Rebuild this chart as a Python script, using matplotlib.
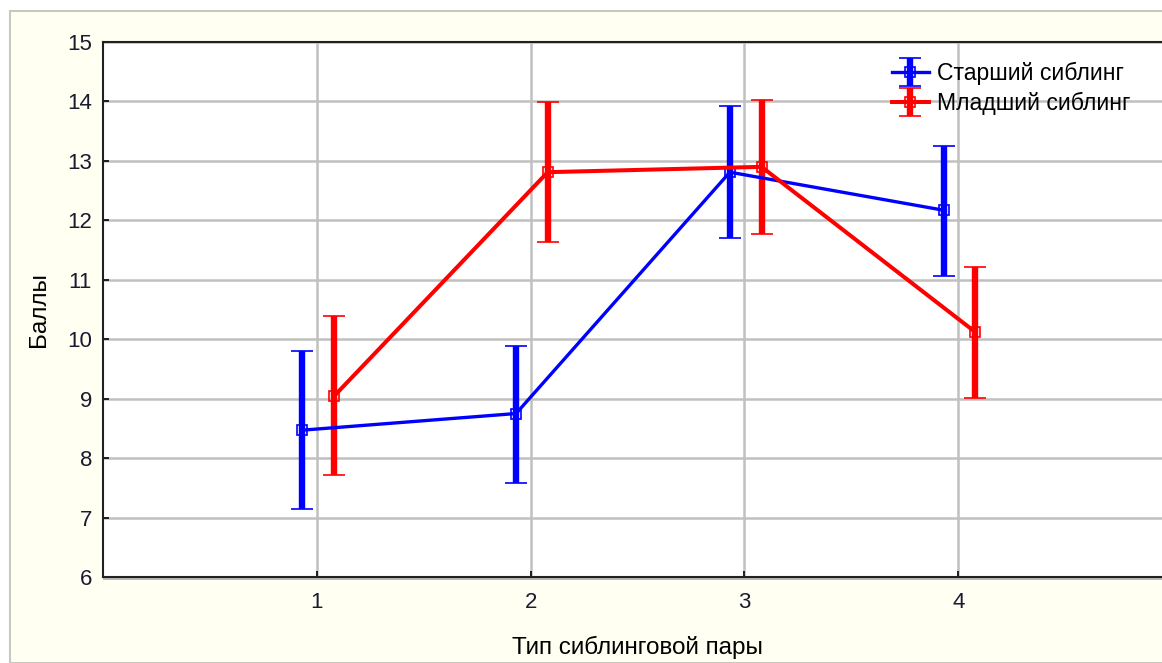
import matplotlib
matplotlib.use("Agg")
import matplotlib.pyplot as plt
from matplotlib.patches import Rectangle
from matplotlib.legend_handler import HandlerErrorbar
from matplotlib.container import ErrorbarContainer
import numpy as np

plt.rcParams["font.family"] = ["Liberation Sans", "DejaVu Sans"]

# pair types on the x axis
pair_types = [1, 2, 3, 4]

# older sibling: mean and error bar ends
older_mean = [8.47, 8.75, 12.81, 12.17]
older_low = [7.15, 7.58, 11.70, 11.07]
older_high = [9.80, 9.88, 13.92, 13.25]

# younger sibling
younger_mean = [9.04, 12.81, 12.90, 10.12]
younger_low = [7.71, 11.64, 11.77, 9.01]
younger_high = [10.39, 13.99, 14.02, 11.22]

series_names = ["Старший сиблинг", "Младший сиблинг"]
x_label = "Тип сиблинговой пары"
y_label = "Баллы"

W, H = 1162, 663
fig = plt.figure(figsize=(W / 100, H / 100), dpi=100)
fig.patch.set_facecolor("white")

# ivory panel with a thin grey frame, like the statistica export
fig.patches.append(Rectangle((10 / W, 0), 1, 1 - 11 / H, transform=fig.transFigure,
                             facecolor="#fffff2", edgecolor="#c8c8c0", linewidth=1.5, zorder=-10))

left, right, top, bottom = 103, 1172, 42, 577
ax = fig.add_axes([left / W, 1 - bottom / H, (right - left) / W, (bottom - top) / H])
ax.set_facecolor("white")

# faint grey shadow under the bottom axis line
fig.patches.append(Rectangle((left / W, 1 - 580 / H), 1, 2.5 / H, transform=fig.transFigure,
                             facecolor="#b8b8b8", edgecolor="none", zorder=-5))


def draw(offset, mean, low, high, color, name, lw):
    x = np.array(pair_types) + offset
    m = np.array(mean)
    err = [m - np.array(low), np.array(high) - m]
    return ax.errorbar(x, m, yerr=err, color=color, linewidth=lw, marker="s", markersize=7,
                       markerfacecolor="none", markeredgewidth=1.2, elinewidth=4.6,
                       capsize=8, capthick=4.4, label=name, zorder=3)


draw(-0.068, older_mean, older_low, older_high, "#0000ff", series_names[0], 2.4)
draw(0.08, younger_mean, younger_low, younger_high, "#ff0000", series_names[1], 2.9)

ax.set_xlim(0, 5)
ax.set_ylim(6, 15)
ax.set_xticks(pair_types)
ax.set_yticks(range(6, 16))
ax.grid(True, color="#c0c0c0", linewidth=1.8)
ax.set_axisbelow(True)
ax.tick_params(direction="in", length=4, width=1.2, labelsize=16, colors="black",
               labelcolor="#1a1a30", pad=11)
ax.tick_params(axis="y", pad=8)
for s in ax.spines.values():
    s.set_linewidth(1.5)
    s.set_color("#202020")

ax.set_xlabel(x_label, fontsize=17.5, labelpad=16)
ax.set_ylabel(y_label, fontsize=17.5, labelpad=12)

ax.legend(loc="upper left", bbox_to_anchor=(0.723, 0.993), frameon=False, fontsize=16.6,
          handlelength=1.6, handletextpad=0.35, labelspacing=0.3, borderpad=0.2,
          handler_map={ErrorbarContainer: HandlerErrorbar(yerr_size=0.6)})

fig.savefig("out.png", dpi=100)
